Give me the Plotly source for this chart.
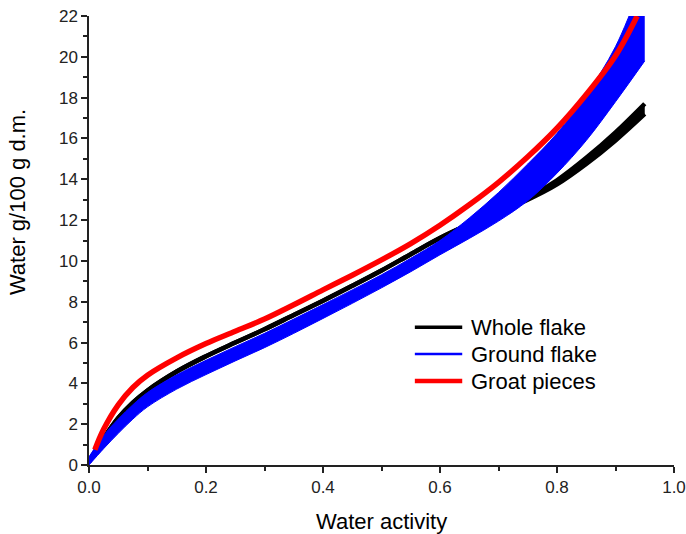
import plotly.graph_objects as go

# Water activity grid
aw = [0.0, 0.025, 0.05, 0.075, 0.1, 0.15, 0.2, 0.25, 0.3, 0.35, 0.4, 0.45,
      0.5, 0.55, 0.6, 0.65, 0.7, 0.75, 0.8, 0.85, 0.9, 0.95]

# Whole flake (black) band
whole_lo = [0.15, 1.3, 2.3, 3.05, 3.65, 4.58, 5.33, 6.0, 6.65, 7.35, 8.05, 8.78,
            9.53, 10.33, 11.12, 11.8, 12.4, 13.0, 13.75, 14.75, 15.9, 17.2]
whole_hi = [0.15, 1.3, 2.3, 3.05, 3.65, 4.58, 5.33, 6.0, 6.65, 7.35, 8.05, 8.78,
            9.53, 10.33, 11.12, 11.8, 12.45, 13.1, 13.95, 15.05, 16.3, 17.7]

# Ground flake (blue) band
ground_lo = [0.0, 0.8, 1.55, 2.25, 2.85, 3.72, 4.43, 5.1, 5.75, 6.45, 7.18, 7.92,
             8.68, 9.47, 10.3, 11.1, 11.95, 12.95, 14.3, 15.9, 17.8, 19.8]
ground_hi = [0.4, 1.45, 2.25, 2.95, 3.55, 4.42, 5.13, 5.8, 6.45, 7.15, 7.86, 8.58,
             9.32, 10.13, 11.0, 12.1, 13.35, 14.75, 16.25, 18.15, 20.5, 24.0]

# Groat pieces (red)
groat_aw = [0.01, 0.025, 0.05, 0.075, 0.1, 0.15, 0.2, 0.25, 0.3, 0.35, 0.4,
            0.45, 0.5, 0.55, 0.6, 0.65, 0.7, 0.75, 0.8, 0.85, 0.9, 0.937]
groat = [0.75, 1.75, 2.95, 3.8, 4.4, 5.25, 5.95, 6.55, 7.15, 7.85, 8.58, 9.3,
         10.05, 10.85, 11.75, 12.75, 13.85, 15.1, 16.5, 18.15, 20.05, 22.0]

legend_names = ["Whole flake", "Ground flake", "Groat pieces"]
legend_colors = ["black", "blue", "red"]
legend_widths = [3.5, 2.5, 4.5]

fig = go.Figure()

fig.add_trace(go.Scatter(x=aw, y=whole_lo, mode="lines", line=dict(color="black", width=4.5, shape="spline"),
                         showlegend=False, hoverinfo="skip"))
fig.add_trace(go.Scatter(x=aw, y=whole_hi, mode="lines", line=dict(color="black", width=4.5, shape="spline"),
                         fill="tonexty", fillcolor="black", showlegend=False, hoverinfo="skip"))
fig.add_trace(go.Scatter(x=aw, y=ground_lo, mode="lines", line=dict(color="blue", width=1, shape="spline"),
                         showlegend=False, hoverinfo="skip"))
fig.add_trace(go.Scatter(x=aw, y=ground_hi, mode="lines", line=dict(color="blue", width=1, shape="spline"),
                         fill="tonexty", fillcolor="blue", showlegend=False, hoverinfo="skip"))
fig.add_trace(go.Scatter(x=groat_aw, y=groat, mode="lines", line=dict(color="red", width=5.5, shape="spline"),
                         showlegend=False, hoverinfo="skip"))

FONT = "Liberation Sans, Arial"

# Manual legend (paper coordinates)
leg_y = [0.307, 0.247, 0.187]
for name, col, w, yy in zip(legend_names, legend_colors, legend_widths, leg_y):
    fig.add_shape(type="line", xref="paper", yref="paper", x0=0.557, x1=0.638, y0=yy, y1=yy,
                  line=dict(color=col, width=w))
    fig.add_annotation(xref="paper", yref="paper", x=0.649, y=yy, text=name, showarrow=False,
                       xanchor="left", yanchor="middle",
                       font=dict(family=FONT, size=22, color="black"))

# Axis titles
fig.add_annotation(xref="paper", yref="paper", x=0.5, y=-0.125, text="Water activity",
                   showarrow=False, xanchor="center", yanchor="middle",
                   font=dict(family=FONT, size=22, color="black"))
fig.add_annotation(xref="paper", yref="paper", x=-0.121, y=0.586, text="Water g/100 g d.m.",
                   showarrow=False, xanchor="center", yanchor="middle", textangle=-90,
                   font=dict(family=FONT, size=22, color="black"))

fig.update_layout(
    width=686, height=534,
    margin=dict(l=89, r=12, t=16, b=69),
    paper_bgcolor="white", plot_bgcolor="white",
    font=dict(family=FONT, color="black"),
    showlegend=False,
)
fig.update_xaxes(
    range=[0, 1], automargin=False, showgrid=False, zeroline=False, showline=True,
    linecolor="#222", linewidth=1.5,
    ticks="outside", ticklen=6, tickwidth=1.5, tickcolor="#222", dtick=0.2, tickformat=".1f",
    tickfont=dict(size=17, color="#222"),
    minor=dict(ticks="outside", ticklen=4, tickwidth=1.5, tickcolor="#222", dtick=0.1),
)
fig.update_yaxes(
    range=[0, 22], automargin=False, showgrid=False, zeroline=False, showline=True,
    linecolor="#222", linewidth=1.5,
    ticks="outside", ticklen=6, tickwidth=1.5, tickcolor="#222", dtick=2,
    tickfont=dict(size=17, color="#222"),
    minor=dict(ticks="outside", ticklen=4, tickwidth=1.5, tickcolor="#222", dtick=1),
)

fig.write_html("out.html")
